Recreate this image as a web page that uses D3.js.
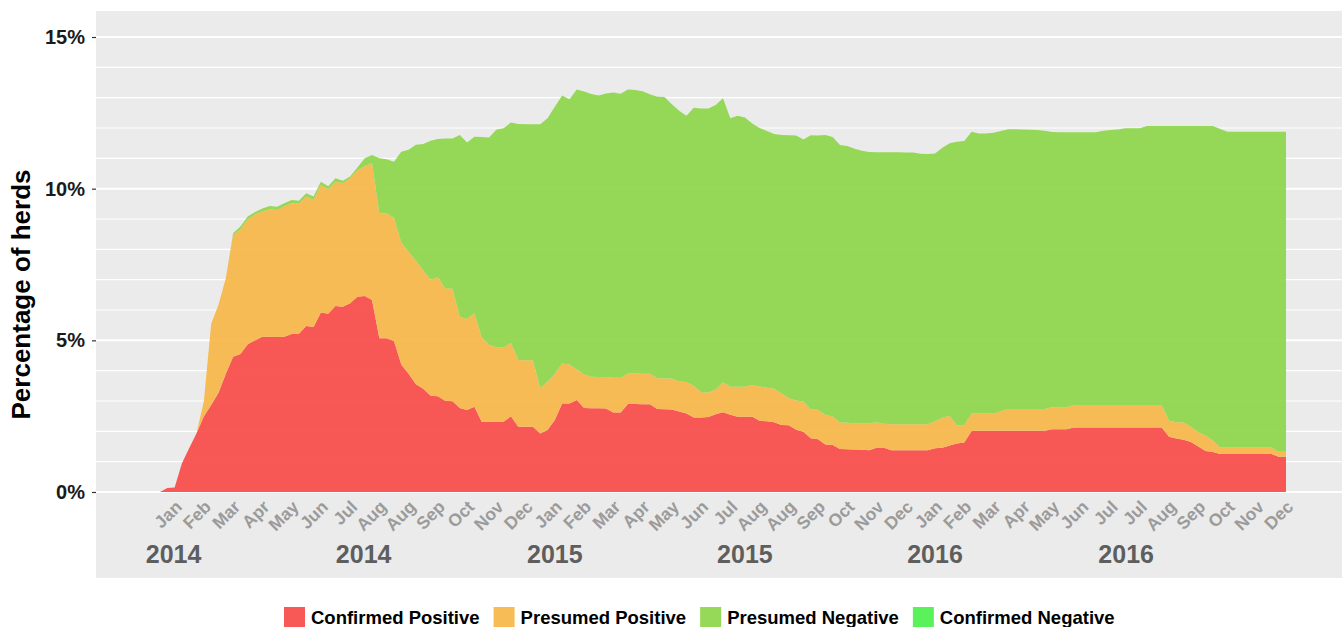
<!DOCTYPE html>
<html>
<head>
<meta charset="utf-8">
<script src="https://cdn.jsdelivr.net/npm/d3@7"></script>
<style>
  body { margin: 0; background: #fff; }
  svg text { font-family: "Liberation Sans", Arial, sans-serif; font-weight: bold; }
</style>
</head>
<body>
<script>
// weekly shares of herds (%), one value per week starting at firstWeek
const firstWeek = '2013-12-28';

const confirmedPositive = [
  0, 0.13, 0.15, 0.95, 1.45, 1.94, 2.5, 2.87, 3.27, 3.9,
  4.46, 4.55, 4.87, 5.0, 5.12, 5.12, 5.11, 5.12, 5.21, 5.22,
  5.47, 5.44, 5.92, 5.88, 6.13, 6.11, 6.22, 6.44, 6.46, 6.33,
  5.07, 5.07, 4.98, 4.2, 3.9, 3.55, 3.4, 3.17, 3.16, 3.01,
  2.99, 2.77, 2.7, 2.81, 2.32, 2.32, 2.32, 2.32, 2.5, 2.15,
  2.15, 2.15, 1.93, 2.04, 2.37, 2.92, 2.92, 3.03, 2.77, 2.76,
  2.76, 2.75, 2.62, 2.62, 2.9, 2.9, 2.89, 2.89, 2.74, 2.73,
  2.72, 2.65, 2.59, 2.46, 2.46, 2.47, 2.56, 2.63, 2.55, 2.48,
  2.48, 2.48, 2.35, 2.33, 2.3, 2.21, 2.2, 2.05, 1.99, 1.77,
  1.74, 1.57, 1.55, 1.42, 1.41, 1.4, 1.39, 1.38, 1.46, 1.46,
  1.38, 1.38, 1.38, 1.38, 1.38, 1.38, 1.44, 1.46, 1.53, 1.6,
  1.63, 2.01, 2.02, 2.02, 2.02, 2.02, 2.02, 2.02, 2.02, 2.02,
  2.02, 2.02, 2.07, 2.07, 2.07, 2.13, 2.13, 2.13, 2.13, 2.13,
  2.13, 2.13, 2.13, 2.13, 2.13, 2.13, 2.13, 2.13, 1.82, 1.76,
  1.72, 1.65, 1.5, 1.35, 1.32, 1.25, 1.25, 1.25, 1.25, 1.25,
  1.25, 1.25, 1.25, 1.16, 1.16
];

const presumedPositive = [
  0, 0, 0, 0, 0, 0, 0.5, 2.68, 2.9, 3.15,
  4.01, 4.1, 4.11, 4.15, 4.13, 4.2, 4.19, 4.3, 4.31, 4.28,
  4.27, 4.19, 4.2, 4.1, 4.1, 4.07, 4.12, 4.16, 4.29, 4.51,
  4.12, 4.11, 4.07, 4.02, 4.02, 4.07, 3.9, 3.83, 3.92, 3.71,
  3.71, 3.01, 3.0, 3.08, 2.78, 2.53, 2.45, 2.44, 2.42, 2.2,
  2.19, 2.19, 1.49, 1.6, 1.52, 1.32, 1.28, 1.01, 1.1, 1.04,
  1.03, 1.03, 1.15, 1.15, 1.01, 1.01, 1.01, 1.01, 1.01, 1.01,
  1.02, 0.99, 1.04, 1.04, 0.83, 0.81, 0.82, 0.99, 0.92, 0.99,
  0.99, 1.05, 1.13, 1.11, 1.1, 1.04, 0.9, 0.97, 0.99, 0.96,
  0.97, 0.97, 0.94, 0.87, 0.87, 0.87, 0.87, 0.88, 0.84, 0.79,
  0.85, 0.85, 0.85, 0.85, 0.85, 0.85, 0.89, 0.99, 0.98, 0.59,
  0.58, 0.58, 0.57, 0.57, 0.57, 0.64, 0.72, 0.72, 0.72, 0.72,
  0.72, 0.72, 0.72, 0.72, 0.72, 0.74, 0.74, 0.74, 0.74, 0.74,
  0.74, 0.74, 0.74, 0.74, 0.74, 0.74, 0.74, 0.74, 0.53, 0.54,
  0.57, 0.5, 0.47, 0.51, 0.38, 0.22, 0.22, 0.22, 0.22, 0.22,
  0.22, 0.22, 0.22, 0.17, 0.17
];

const presumedNegative = [
  0, 0, 0, 0, 0, 0, 0, 0, 0, 0,
  0.06, 0.1, 0.1, 0.08, 0.1, 0.11, 0.1, 0.1, 0.11, 0.1,
  0.11, 0.11, 0.11, 0.1, 0.11, 0.08, 0.06, 0.1, 0.25, 0.27,
  1.81, 1.79, 1.84, 3.0, 3.36, 3.83, 4.17, 4.58, 4.56, 4.93,
  4.95, 5.99, 5.82, 5.82, 6.6, 6.84, 7.17, 7.23, 7.26, 7.78,
  7.78, 7.78, 8.7, 8.68, 8.81, 8.83, 8.75, 9.23, 9.33, 9.32,
  9.28, 9.36, 9.4, 9.36, 9.36, 9.34, 9.31, 9.21, 9.28, 9.28,
  9.04, 8.93, 8.77, 9.17, 9.35, 9.36, 9.38, 9.36, 8.85, 8.93,
  8.88, 8.62, 8.52, 8.46, 8.4, 8.52, 8.66, 8.73, 8.64, 9.03,
  9.04, 9.23, 9.21, 9.15, 9.13, 9.05, 8.99, 8.95, 8.9, 8.95,
  8.97, 8.97, 8.96, 8.96, 8.92, 8.91, 8.83, 8.9, 8.99, 9.36,
  9.36, 9.29, 9.23, 9.23, 9.25, 9.24, 9.22, 9.22, 9.21, 9.2,
  9.19, 9.17, 9.08, 9.07, 9.07, 8.99, 8.99, 8.99, 8.99, 9.04,
  9.06, 9.08, 9.12, 9.12, 9.12, 9.2, 9.2, 9.2, 9.72, 9.77,
  9.78, 9.92, 10.1, 10.21, 10.37, 10.5, 10.41, 10.41, 10.41, 10.41,
  10.41, 10.41, 10.41, 10.55, 10.55
];

const seriesNames = ['Confirmed Positive', 'Presumed Positive', 'Presumed Negative', 'Confirmed Negative'];
const seriesColors = ['#F9504D', '#F7B84C', '#90D64E', '#52F052'];

// x breaks every 28 days, labelled with the month
const firstTick = '2014-01-18';
const tickLabels = [
  'Jan', 'Feb', 'Mar', 'Apr', 'May', 'Jun', 'Jul', 'Aug', 'Aug', 'Sep', 'Oct', 'Nov', 'Dec',
  'Jan', 'Feb', 'Mar', 'Apr', 'May', 'Jun', 'Jul', 'Aug', 'Aug', 'Sep', 'Oct', 'Nov', 'Dec',
  'Jan', 'Feb', 'Mar', 'Apr', 'May', 'Jun', 'Jul', 'Jul', 'Aug', 'Sep', 'Oct', 'Nov', 'Dec'
];
const yearLabels = ['2014', '2014', '2015', '2015', '2016', '2016'];
const yearLabelDates = ['2014-01-10', '2014-07-11', '2015-01-10', '2015-07-11', '2016-01-09', '2016-07-10'];
const yTicks = [0, 5, 10, 15];

const width = 1342, height = 627;
const panel = { left: 96, top: 11, right: 1342, bottom: 578 };

const parse = d3.utcParse('%Y-%m-%d');
const dates = confirmedPositive.map((d, i) => d3.utcDay.offset(parse(firstWeek), 7 * i));
const table = dates.map((date, i) => ({
  date,
  cp: confirmedPositive[i],
  pp: presumedPositive[i],
  pn: presumedNegative[i]
}));

const svg = d3.select('body').append('svg')
  .attr('width', width)
  .attr('height', height);

const x = d3.scaleUtc()
  .domain(d3.extent(dates))
  .range([160, 1286]);

const y = d3.scaleLinear()
  .domain([0, 15])
  .range([492, 37]);

// panel background (covers the axis labels too)
svg.append('rect')
  .attr('x', panel.left)
  .attr('y', panel.top)
  .attr('width', panel.right - panel.left)
  .attr('height', panel.bottom - panel.top)
  .attr('fill', '#EBEBEB');

// grid
svg.append('g')
  .selectAll('line')
  .data(d3.range(0, 16))
  .join('line')
  .attr('x1', panel.left)
  .attr('x2', panel.right)
  .attr('y1', d => y(d))
  .attr('y2', d => y(d))
  .attr('stroke', '#fff')
  .attr('stroke-width', d => (d % 5 === 0 ? 2 : 1.1));

const stack = d3.stack().keys(['cp', 'pp', 'pn']);
const layers = stack(table);

const area = d3.area()
  .x(d => x(d.data.date))
  .y0(d => y(d[0]))
  .y1(d => y(d[1]));

svg.append('g')
  .selectAll('path')
  .data(layers)
  .join('path')
  .attr('d', area)
  .attr('fill', (d, i) => seriesColors[i])
  .attr('fill-opacity', 0.95);

// y axis
const yAxis = svg.append('g')
  .attr('transform', `translate(${panel.left},0)`)
  .call(d3.axisLeft(y).tickValues(yTicks).tickFormat(d => d + '%').tickSize(4).tickPadding(7));
yAxis.select('.domain').remove();
yAxis.selectAll('line').attr('stroke', '#333').attr('stroke-width', 1.2);
yAxis.selectAll('text')
  .attr('fill', '#1a1a1a')
  .style('font-size', '20px');

svg.append('text')
  .attr('transform', `translate(30,${(panel.top + panel.bottom) / 2}) rotate(-90)`)
  .attr('text-anchor', 'middle')
  .attr('fill', '#000')
  .style('font-size', '26px')
  .text('Percentage of herds');

// x tick labels (rotated month names)
const tickDates = tickLabels.map((d, i) => d3.utcDay.offset(parse(firstTick), 28 * i));
svg.append('g')
  .selectAll('text')
  .data(tickDates)
  .join('text')
  .attr('transform', d => `translate(${x(d) + 1},508) rotate(-45)`)
  .attr('text-anchor', 'end')
  .attr('fill', '#9b9b9b')
  .style('font-size', '17.5px')
  .text((d, i) => tickLabels[i]);

// year labels
svg.append('g')
  .selectAll('text')
  .data(yearLabels)
  .join('text')
  .attr('x', (d, i) => x(parse(yearLabelDates[i])))
  .attr('y', 563)
  .attr('text-anchor', 'middle')
  .attr('fill', '#5e5e5e')
  .style('font-size', '25px')
  .text(d => d);

// legend
const legend = svg.append('g');
let lx = 284;
seriesNames.forEach((name, i) => {
  legend.append('rect')
    .attr('x', lx)
    .attr('y', 607)
    .attr('width', 21)
    .attr('height', 21)
    .attr('fill', seriesColors[i])
    .attr('fill-opacity', 0.95);
  const t = legend.append('text')
    .attr('x', lx + 27)
    .attr('y', 624)
    .attr('fill', '#000')
    .style('font-size', '18.5px')
    .text(name);
  lx += 27 + t.node().getComputedTextLength() + 14;
});
</script>
</body>
</html>
